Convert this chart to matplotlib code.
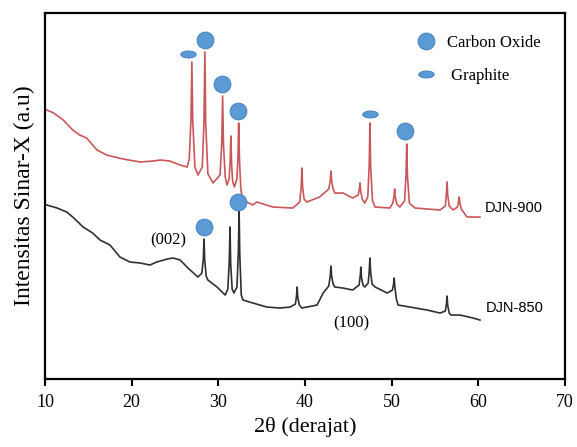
import matplotlib
matplotlib.use("Agg")
import matplotlib.pyplot as plt
from matplotlib.markers import MarkerStyle
from matplotlib.transforms import Affine2D
from matplotlib.lines import Line2D

# DJN-900 pattern (2theta, intensity a.u.)
two_theta_900 = [10.2, 11.0, 12.1, 13.2, 14.0, 14.8, 16.0, 17.1, 19.0, 21.0, 22.5, 23.3, 24.4, 25.6, 26.4,
                 26.65, 26.85, 26.95, 27.05, 27.3, 27.65,
                 28.15, 28.35, 28.45, 28.55, 28.8, 29.4,
                 30.2, 30.4, 30.5, 30.6, 30.8, 31.0,
                 31.25, 31.37, 31.45, 31.53, 31.65, 31.85,
                 32.15, 32.27, 32.35, 32.45, 32.6, 32.8,
                 34.0, 34.45, 36.3, 38.6,
                 39.4, 39.57, 39.65, 39.73, 39.9, 40.2, 41.7,
                 42.75, 42.92, 43.0, 43.08, 43.25, 43.45, 44.4, 45.5,
                 46.15, 46.28, 46.35, 46.42, 46.6, 46.9,
                 47.25, 47.42, 47.5, 47.58, 47.8, 48.1, 49.8,
                 50.15, 50.28, 50.35, 50.42, 50.6, 50.95,
                 51.5, 51.67, 51.75, 51.83, 52.05, 52.7, 55.6,
                 56.2, 56.32, 56.4, 56.48, 56.65, 57.1,
                 57.6, 57.72, 57.8, 57.88, 58.05, 58.7, 60.2]
intensity_900 = [269, 266, 259, 249, 244, 241, 229, 224, 220, 217, 218, 219, 218, 214, 212,
                 220, 260, 317, 258, 212, 204,
                 212, 258, 327, 255, 205, 196,
                 204, 236, 283, 234, 202, 194,
                 200, 218, 243, 216, 198, 192,
                 200, 222, 256, 218, 190, 179,
                 174, 177, 172, 171,
                 177, 192, 211, 192, 180, 177, 182,
                 190, 198, 208, 198, 190, 186, 186, 181,
                 184, 190, 196, 189, 180, 176,
                 182, 215, 256, 213, 178, 172, 171,
                 176, 183, 190, 182, 175, 172,
                 178, 205, 235, 203, 176, 171, 169,
                 173, 185, 197, 184, 173, 169,
                 172, 177, 182, 176, 170, 162, 162]

# DJN-850 pattern
two_theta_850 = [10.2, 11.4, 12.5, 13.2, 14.4, 15.5, 16.35, 17.5, 18.65, 19.8, 21.0, 22.1, 22.9,
                 24.1, 24.8, 25.6, 26.5, 27.65,
                 28.1, 28.27, 28.35, 28.43, 28.6, 28.8, 29.85, 30.8,
                 31.1, 31.27, 31.35, 31.43, 31.6, 31.8,
                 32.15, 32.32, 32.4, 32.48, 32.65, 32.85,
                 34.0, 35.6, 37.1, 38.3,
                 38.9, 39.03, 39.1, 39.17, 39.35, 39.65, 41.4, 42.1,
                 42.75, 42.92, 43.0, 43.08, 43.25, 43.45, 44.4, 45.5,
                 46.25, 46.38, 46.45, 46.52, 46.7, 46.9,
                 47.3, 47.42, 47.5, 47.58, 47.75, 48.1, 49.5,
                 50.1, 50.23, 50.3, 50.37, 50.55, 50.75,
                 52.1, 54.1, 55.6,
                 56.2, 56.33, 56.4, 56.47, 56.65, 56.85, 57.9, 59.4, 60.2]
intensity_850 = [174, 171, 167, 162, 152, 146, 139, 134, 122, 117, 116, 114, 117,
                 120, 121, 119, 111, 102,
                 106, 120, 140, 119, 103, 99, 92, 84,
                 90, 118, 152, 115, 90, 86,
                 92, 128, 170, 124, 84, 79,
                 76, 72, 71, 72,
                 75, 83, 92, 82, 74, 71, 74, 86,
                 93, 103, 113, 103, 95, 92, 91, 89,
                 94, 103, 112, 102, 94, 92,
                 96, 108, 121, 107, 95, 92, 86,
                 89, 95, 101, 93, 80, 74,
                 72, 69, 66,
                 68, 75, 83, 74, 66, 64, 64, 61, 59]

# phase markers
carbon_oxide_x = [28.45, 30.45, 32.25, 51.55, 32.3, 28.35]
carbon_oxide_y = [339, 295, 268, 248, 177, 152]
graphite_x = [26.5, 47.5]
graphite_y = [325, 265]

blue = "#5b9bd5"
blue_edge = "#4a86c0"
ellipse = MarkerStyle("o", transform=Affine2D().scale(1.0, 0.45))

fig, ax = plt.subplots(figsize=(5.77, 4.47), dpi=100)
fig.subplots_adjust(left=0.078, right=0.979, bottom=0.152, top=0.971)

ax.plot(two_theta_900, intensity_900, color="#c9575a", lw=1.2)
ax.plot(two_theta_850, intensity_850, color="#303030", lw=1.2)

ax.plot(carbon_oxide_x, carbon_oxide_y, ls="none", marker="o", ms=12,
        mfc=blue, mec=blue_edge, mew=0.8)
ax.plot(graphite_x, graphite_y, ls="none", marker=ellipse, ms=11,
        mfc=blue, mec=blue_edge, mew=0.8)

serif = "Liberation Serif"
ax.text(60.7, 171, "DJN-900", fontsize=10.5, family="Liberation Sans", va="center")
ax.text(60.9, 71, "DJN-850", fontsize=10.5, family="Liberation Sans", va="center")
ax.text(24.2, 139, "(002)", fontsize=12, family=serif, ha="center", va="center")
ax.text(45.4, 56, "(100)", fontsize=12, family=serif, ha="center", va="center")

handles = [Line2D([], [], ls="none", marker="o", ms=12, mfc=blue, mec=blue_edge, mew=0.8),
           Line2D([], [], ls="none", marker=ellipse, ms=11, mfc=blue, mec=blue_edge, mew=0.8)]
ax.legend(handles, ["Carbon Oxide", " Graphite"], loc="upper left",
          bbox_to_anchor=(0.672, 0.98), frameon=False, handletextpad=0.25,
          labelspacing=1.0, prop={"family": serif, "size": 12})

ax.set_xlim(10, 70)
ax.set_ylim(0, 366)
ax.set_xticks([10, 20, 30, 40, 50, 60, 70])
ax.set_yticks([])
ax.tick_params(axis="x", direction="out", length=5, width=1.5, pad=6, labelsize=13)
for lab in ax.get_xticklabels():
    lab.set_family(serif)
for s in ax.spines.values():
    s.set_linewidth(1.6)

ax.set_xlabel("2θ (derajat)", fontsize=16, family=serif, labelpad=4)
ax.set_ylabel("Intensitas Sinar-X (a.u)", fontsize=17, family=serif, labelpad=7)

fig.savefig("out.png", dpi=100)
